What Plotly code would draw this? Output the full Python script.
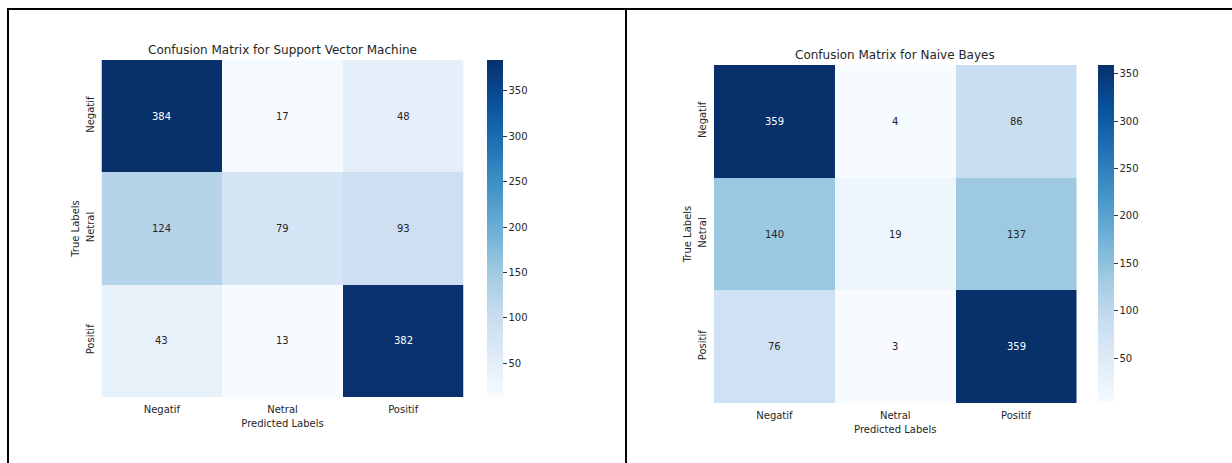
import plotly.graph_objects as go

labels = ["Negatif", "Netral", "Positif"]
svm_matrix = [[384, 17, 48],
              [124, 79, 93],
              [43, 13, 382]]
nb_matrix = [[359, 4, 86],
             [140, 19, 137],
             [76, 3, 359]]
titles = ["Confusion Matrix for Support Vector Machine", "Confusion Matrix for Naive Bayes"]
cbar_ticks = [50, 100, 150, 200, 250, 300, 350]

W, H = 1232, 463
blues = ["#f7fbff", "#deebf7", "#c6dbef", "#9ecae1", "#6baed6",
         "#4292c6", "#2171b5", "#08519c", "#08306b"]
colorscale = [[i / 8, c] for i, c in enumerate(blues)]
FONT = "DejaVu Sans"
TXT = "#262626"


def px_x(x):
    return x / W


def px_y(y):
    return 1 - y / H


# panel geometry in pixels: (left, right, top, bottom, colorbar_left)
panels = [(101.5, 463.5, 60, 397, 487),
          (714, 1076.5, 65, 403, 1098)]

fig = go.Figure()
annotations = []
for k, (mat, title, geo) in enumerate(zip([svm_matrix, nb_matrix], titles, panels)):
    L, R, T, B, CB = geo
    ax = "" if k == 0 else str(k + 1)
    vmin = min(min(r) for r in mat)
    vmax = max(max(r) for r in mat)
    fig.add_trace(go.Heatmap(
        z=mat, x=labels, y=labels, colorscale=colorscale,
        zmin=vmin, zmax=vmax, xaxis="x" + ax, yaxis="y" + ax,
        xgap=0, ygap=0, hoverongaps=False,
        colorbar=dict(
            x=px_x(CB), xanchor="left", xref="paper", xpad=0, ypad=0,
            y=px_y((T + B) / 2), yanchor="middle",
            len=B - T, lenmode="pixels", thickness=16, thicknessmode="pixels",
            outlinewidth=0, ticks="outside", ticklen=4, tickwidth=1,
            tickcolor="#333333", tickvals=cbar_ticks,
            tickfont=dict(family=FONT, size=10, color=TXT),
        ),
    ))
    fig.layout["xaxis" + ax] = dict(
        domain=[px_x(L), px_x(R)], anchor="y" + ax, showgrid=False,
        zeroline=False, showline=False, ticks="", ticklabelstandoff=5,
        tickfont=dict(family=FONT, size=10, color=TXT),
        title=dict(text="Predicted Labels", font=dict(family=FONT, size=10, color=TXT), standoff=5),
    )
    fig.layout["yaxis" + ax] = dict(
        domain=[px_y(B), px_y(T)], anchor="x" + ax, showgrid=False,
        zeroline=False, showline=False, ticks="", autorange="reversed",
        tickangle=-90, ticklabelstandoff=5,
        tickfont=dict(family=FONT, size=10, color=TXT),
        title=dict(text="True Labels", font=dict(family=FONT, size=10, color=TXT), standoff=3),
    )
    for i, row in enumerate(mat):
        for j, v in enumerate(row):
            frac = (v - vmin) / (vmax - vmin)
            annotations.append(dict(
                x=labels[j], y=labels[i], xref="x" + ax, yref="y" + ax,
                text=str(v), showarrow=False,
                font=dict(family=FONT, size=10, color="white" if frac > 0.6 else TXT),
            ))
    annotations.append(dict(
        x=px_x((L + R) / 2), y=px_y(T - 10), xref="paper", yref="paper",
        text=title, showarrow=False, xanchor="center", yanchor="middle",
        font=dict(family=FONT, size=12, color=TXT),
    ))

# frame lines
shapes = [
    dict(type="line", xref="paper", yref="paper", x0=px_x(7), x1=1, y0=px_y(9), y1=px_y(9),
         line=dict(color="black", width=2)),
    dict(type="line", xref="paper", yref="paper", x0=px_x(8), x1=px_x(8), y0=px_y(8), y1=0,
         line=dict(color="black", width=2)),
    dict(type="line", xref="paper", yref="paper", x0=px_x(626), x1=px_x(626), y0=px_y(8), y1=0,
         line=dict(color="black", width=2)),
]

fig.update_layout(
    width=W, height=H, margin=dict(l=0, r=0, t=0, b=0),
    paper_bgcolor="white", plot_bgcolor="white",
    annotations=annotations, shapes=shapes, showlegend=False,
    font=dict(family=FONT, size=10, color=TXT),
)

fig.write_html("out.html")
